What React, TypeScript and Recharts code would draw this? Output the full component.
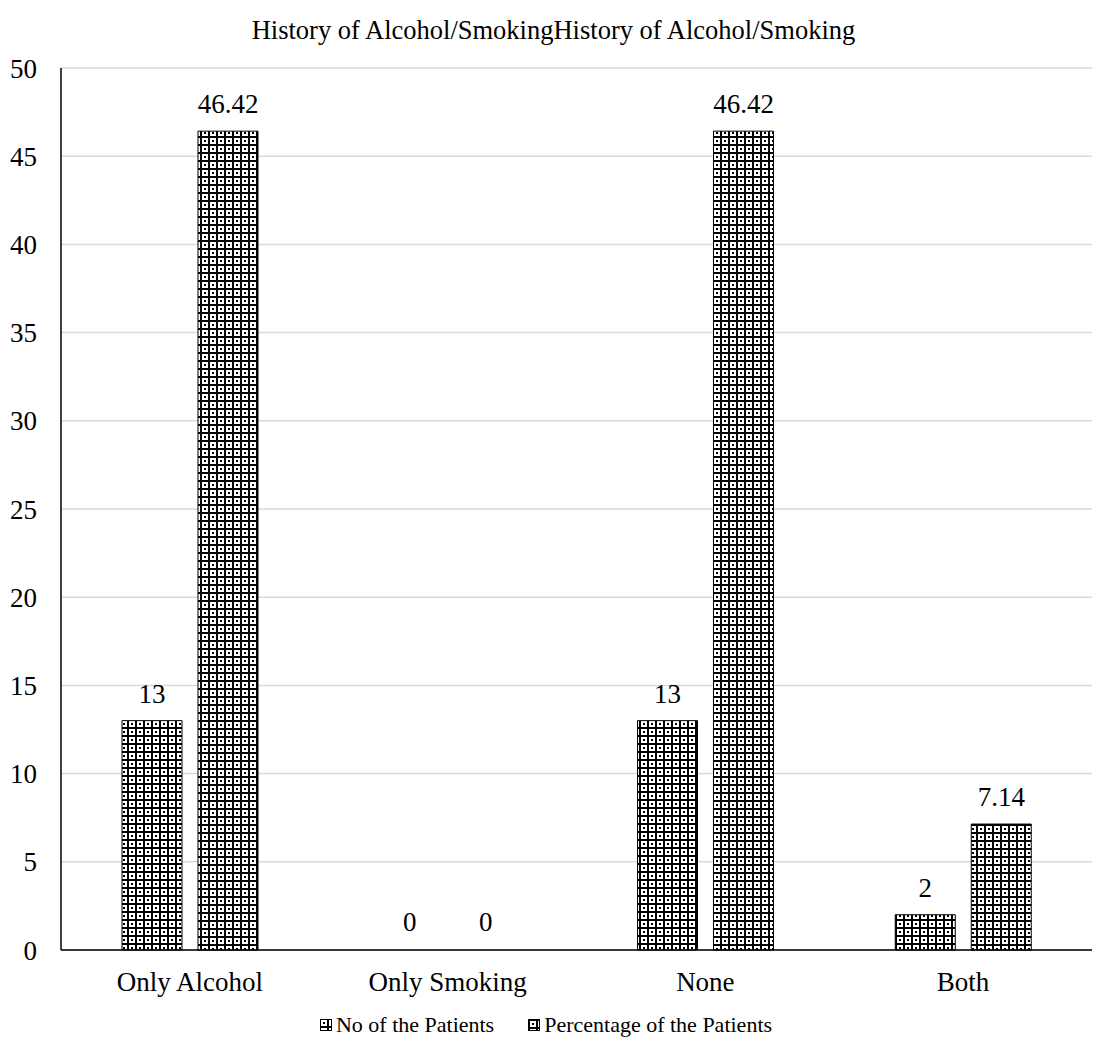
import React from 'react';
import { BarChart, Bar, XAxis, YAxis, CartesianGrid, Legend, LabelList, Cell } from 'recharts';

const categories = ['Only Alcohol', 'Only Smoking', 'None', 'Both'];
const patientCounts = [13, 0, 13, 2];
const patientPercentages = [46.42, 0, 46.42, 7.14];
const yTicks = [0, 5, 10, 15, 20, 25, 30, 35, 40, 45, 50];

const data = categories.map((name, i) => ({
  name,
  count: patientCounts[i],
  percent: patientPercentages[i],
}));

const FONT = '"Liberation Serif", "Times New Roman", serif';

// legend swatches use the same checker fills as the bars
const renderLegend = () => (
  <div
    style={{
      display: 'flex',
      justifyContent: 'center',
      alignItems: 'center',
      fontFamily: FONT,
      fontSize: 22,
      color: '#000',
      gap: 4,
    }}
  >
    <svg width={12} height={12}>
      <rect x={0.5} y={0.5} width={11} height={11} fill="url(#checkA)" stroke="#000" />
    </svg>
    <span style={{ marginRight: 30 }}>No of the Patients</span>
    <svg width={12} height={12}>
      <rect x={0.5} y={0.5} width={11} height={11} fill="url(#checkB)" stroke="#000" />
    </svg>
    <span>Percentage of the Patients</span>
  </div>
);

export default function App() {
  return (
    <div style={{ position: 'absolute', left: 0, top: 0, width: 1107, height: 1051, background: '#fff' }}>
      <div
        style={{
          position: 'absolute',
          top: 14,
          width: 1107,
          textAlign: 'center',
          fontFamily: FONT,
          fontSize: 26.5,
          color: '#000',
          lineHeight: '32px',
        }}
      >
        History of Alcohol/SmokingHistory of Alcohol/Smoking
      </div>
      <BarChart
        width={1107}
        height={1051}
        data={data}
        margin={{ top: 68, right: 15, left: 0, bottom: 0 }}
        barSize={60}
        barGap={16}
      >
        <defs>
          <pattern id="checkA" width={8} height={8} patternUnits="userSpaceOnUse">
            <rect width={8} height={8} fill="#000" />
            <rect x={1} y={1} width={6} height={6} fill="#fff" />
            <rect x={3} y={3} width={2} height={2} fill="#000" />
          </pattern>
          <pattern id="checkB" width={8} height={8} patternUnits="userSpaceOnUse">
            <rect width={8} height={8} fill="#fff" />
            <rect x={0} y={0} width={2} height={8} fill="#000" />
            <rect x={0} y={0} width={8} height={2} fill="#000" />
            <rect x={4} y={4} width={2} height={2} fill="#000" />
          </pattern>
        </defs>
        <CartesianGrid vertical={false} stroke="#d9d9d9" strokeWidth={1.5} />
        <XAxis
          dataKey="name"
          axisLine={{ stroke: '#000', strokeWidth: 1.5 }}
          tickLine={false}
          tickSize={0}
          tickMargin={22}
          height={62}
          tick={{ fill: '#000', fontSize: 27, fontFamily: FONT }}
        />
        <YAxis
          domain={[0, 50]}
          ticks={yTicks}
          width={61}
          axisLine={{ stroke: '#000', strokeWidth: 1.5 }}
          tickLine={false}
          tickSize={0}
          tickMargin={24}
          tick={{ fill: '#000', fontSize: 27, fontFamily: FONT }}
        />
        <Legend verticalAlign="bottom" height={39} content={renderLegend} />
        {/* minPointSize keeps the zero bars so their "0" labels still render; the cells hide them */}
        <Bar dataKey="count" stroke="#000" strokeWidth={1} minPointSize={1} isAnimationActive={false}>
          {patientCounts.map((v, i) => (
            <Cell key={`c-${i}`} fill={v === 0 ? 'none' : 'url(#checkA)'} stroke={v === 0 ? 'none' : '#000'} />
          ))}
          <LabelList dataKey="count" position="top" offset={18} fill="#000" fontSize={27} fontFamily={FONT} />
        </Bar>
        <Bar dataKey="percent" stroke="#000" strokeWidth={1} minPointSize={1} isAnimationActive={false}>
          {patientPercentages.map((v, i) => (
            <Cell key={`p-${i}`} fill={v === 0 ? 'none' : 'url(#checkB)'} stroke={v === 0 ? 'none' : '#000'} />
          ))}
          <LabelList dataKey="percent" position="top" offset={18} fill="#000" fontSize={27} fontFamily={FONT} />
        </Bar>
      </BarChart>
    </div>
  );
}
